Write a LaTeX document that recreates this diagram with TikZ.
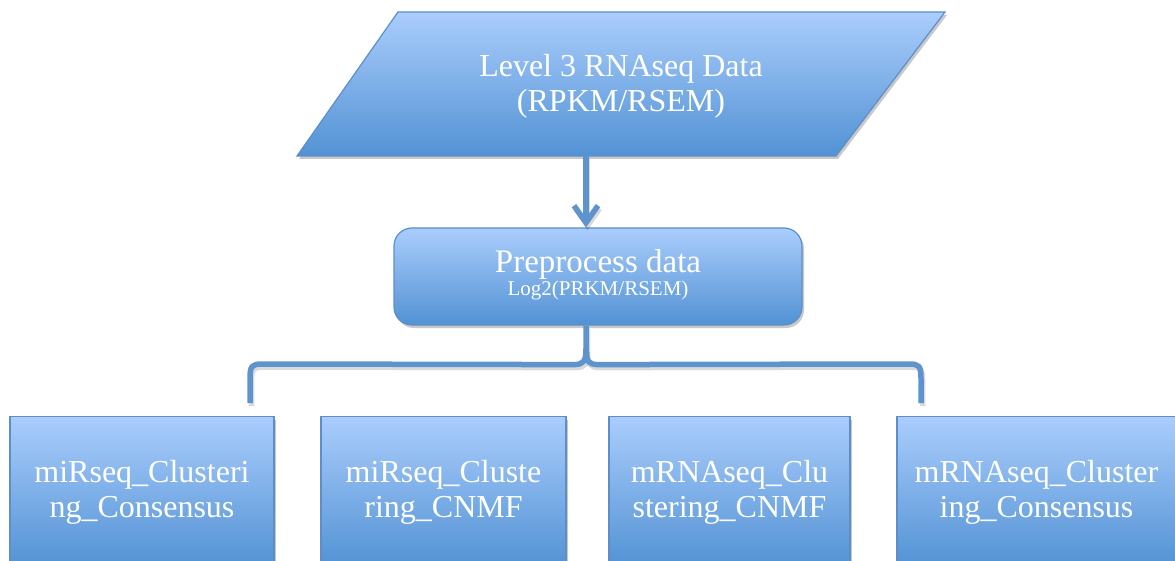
\documentclass[tikz,border=0pt]{standalone}
\usepackage{fontspec}
\setmainfont{Liberation Serif}
\usetikzlibrary{shapes.geometric,shadows,arrows.meta,calc}
\definecolor{topc}{RGB}{170,205,252}
\definecolor{botc}{RGB}{82,146,212}
\definecolor{edgec}{RGB}{92,143,201}
\definecolor{linec}{RGB}{94,148,206}
\tikzset{
  boxshade/.style={top color=topc, bottom color=botc, draw=edgec, line width=1.2pt,
    drop shadow={shadow xshift=2pt, shadow yshift=-3pt, opacity=0.3, fill=black!70}},
  lbl/.style={text=white, align=center},
  conn/.style={draw=linec, line width=5.5pt,
    preaction={draw=black, opacity=0.15, line width=5.5pt, transform canvas={shift={(1.5pt,-3pt)}}}},
  clusterbox/.style={boxshade, rectangle, minimum height=151pt, lbl,
    font=\fontsize{32}{35}\selectfont, inner sep=0pt}
}
\begin{document}
\begin{tikzpicture}[x=1pt,y=-1pt]
\clip (0,0) rectangle (1175,561);
\fill[white] (0,0) rectangle (1175,561);
% top parallelogram
\path[boxshade, line join=miter] (398,12) -- (945,12) -- (836,156) -- (297,156) -- cycle;
\node[lbl, font=\fontsize{32}{35}\selectfont, inner sep=0pt, minimum height=144pt] (top) at (621,86)
  {Level 3 RNAseq Data\\(RPKM/RSEM)};
% preprocess box
\node[boxshade, rectangle, rounded corners=18pt, minimum width=408pt, minimum height=97pt]
  (pre) at (598,276.5) {};
\node[lbl, anchor=base, font=\fontsize{33}{33}\selectfont] (pretxt) at (598,273) {Preprocess data};
\node[lbl, anchor=base, font=\fontsize{21}{21}\selectfont] (prelog) at (598,295) {Log2(PRKM/RSEM)};
% bottom boxes
\node[clusterbox, minimum width=264pt] (b1) at (142,492) {miRseq\_Clusteri\\ng\_Consensus};
\node[clusterbox, minimum width=245pt] (b2) at (443.5,492) {miRseq\_Cluste\\ring\_CNMF};
\node[clusterbox, minimum width=241pt] (b3) at (729.5,492) {mRNAseq\_Clu\\stering\_CNMF};
\node[clusterbox, minimum width=279pt] (b4) at (1036.5,492) {mRNAseq\_Cluster\\ing\_Consensus};
% connectors
\coordinate (tjoin) at (586,156);
\coordinate (ptop) at (tjoin |- pre.north);
\coordinate (pjoin) at (tjoin |- pre.south);
\coordinate (bl) at (250,403);
\coordinate (br) at (921,403);
\draw[conn, -{Straight Barb[length=17pt,width=24pt]}] (tjoin) -- (ptop);
\draw[conn, line join=round] (pjoin) -- ($(pjoin)+(0,23)$)
  .. controls ($(pjoin)+(0,35)$) and ($(pjoin)+(-2,39)$) .. ($(pjoin)+(-12,39)$)
  -- (262,364) .. controls (252,364) and (250,366) .. (250,378) -- (bl);
\draw[conn, line join=round] ($(pjoin)+(0,23)$)
  .. controls ($(pjoin)+(0,35)$) and ($(pjoin)+(2,39)$) .. ($(pjoin)+(12,39)$)
  -- (909,364) .. controls (919,364) and (921,366) .. (921,378) -- (br);
\end{tikzpicture}
\end{document}
